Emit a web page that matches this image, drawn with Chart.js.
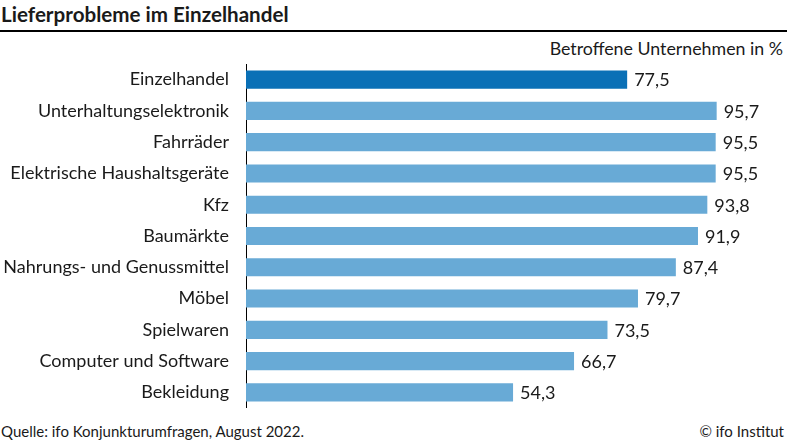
<!DOCTYPE html>
<html>
<head>
  <meta charset="UTF-8">
  <title>Lieferprobleme im Einzelhandel</title>
  <script src="https://cdn.jsdelivr.net/npm/chart.js"></script>
  <style>
    body { margin: 0; width: 787px; height: 443px; background: #fff; font-family: Lato, sans-serif; color: #1a1a1a; position: relative; overflow: hidden; }
    #title { position: absolute; left: 1px; top: 2px; font-size: 20.6px; font-weight: bold; }
    #rule { position: absolute; left: 0; top: 30px; width: 787px; height: 2px; background: #000; }
    #unit { position: absolute; right: 4px; top: 37px; font-size: 17.8px; }
    #chart { position: absolute; left: 0; top: 64px; }
    #source { position: absolute; left: 1px; top: 422px; font-size: 15px; }
    #copy { position: absolute; right: 3px; top: 422px; font-size: 15px; }
  </style>
</head>
<body>
  <div id="title">Lieferprobleme im Einzelhandel</div>
  <div id="rule"></div>
  <div id="unit">Betroffene Unternehmen in %</div>
  <canvas id="chart" width="787" height="344"></canvas>
  <div id="source">Quelle: ifo Konjunkturumfragen, August 2022.</div>
  <div id="copy">© ifo Institut</div>

  <script>
    const categories = ['Einzelhandel', 'Unterhaltungselektronik', 'Fahrräder', 'Elektrische Haushaltsgeräte', 'Kfz',
      'Baumärkte', 'Nahrungs- und Genussmittel', 'Möbel', 'Spielwaren', 'Computer und Software', 'Bekleidung'];
    const values = [77.5, 95.7, 95.5, 95.5, 93.8, 91.9, 87.4, 79.7, 73.5, 66.7, 54.3];
    const barColors = values.map((v, i) => i === 0 ? '#0a70b6' : '#68aad6');

    // draw the value next to each bar, German decimal comma
    const valueLabels = {
      id: 'valueLabels',
      afterDatasetsDraw(chart) {
        const ctx = chart.ctx;
        const meta = chart.getDatasetMeta(0);
        ctx.save();
        ctx.font = '18px Lato, sans-serif';
        ctx.fillStyle = '#1a1a1a';
        ctx.textBaseline = 'middle';
        meta.data.forEach((bar, i) => {
          ctx.fillText(values[i].toFixed(1).replace('.', ','), bar.x + 7, bar.y + 1);
        });
        ctx.restore();
      }
    };

    new Chart(document.getElementById('chart'), {
      type: 'bar',
      data: {
        labels: categories,
        datasets: [{ data: values, backgroundColor: barColors, categoryPercentage: 1, barPercentage: 0.58 }]
      },
      options: {
        indexAxis: 'y',
        responsive: false,
        animation: false,
        layout: { autoPadding: false, padding: 0 },
        plugins: { legend: { display: false }, tooltip: { enabled: false } },
        scales: {
          x: { display: false, min: 0, max: 110 },
          y: {
            afterFit(scale) { scale.width = 246; scale.paddingTop = 0; scale.paddingBottom = 0; },
            grid: { display: false, drawTicks: false },
            border: { display: true, color: '#000', width: 1 },
            ticks: { color: '#1a1a1a', padding: 17, font: { family: 'Lato', size: 18 } }
          }
        }
      },
      plugins: [valueLabels]
    });
  </script>
</body>
</html>
